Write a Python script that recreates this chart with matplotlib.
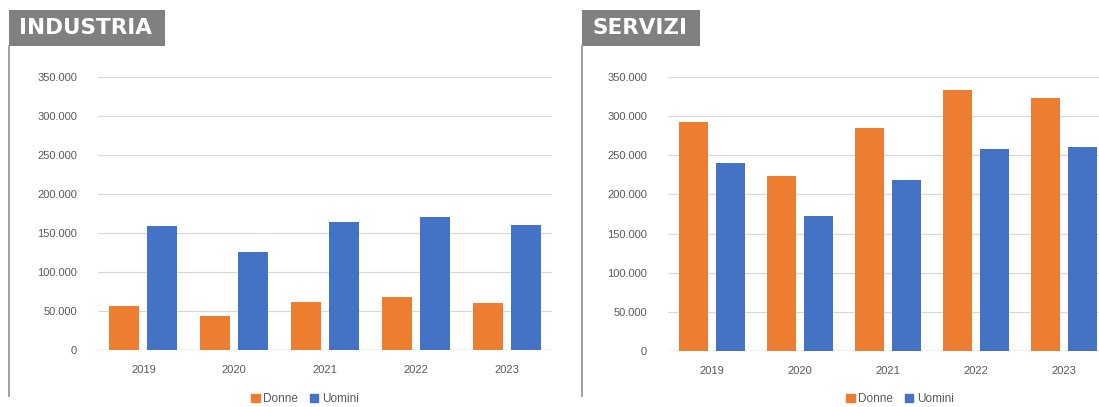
import numpy as np
import matplotlib
matplotlib.use("Agg")
import matplotlib.pyplot as plt
from matplotlib.patches import Rectangle, Patch
from matplotlib.lines import Line2D
from matplotlib.ticker import FuncFormatter

anni = ["2019", "2020", "2021", "2022", "2023"]

# occupati per settore e genere
industria_donne = [56000, 44000, 61000, 68000, 60000]
industria_uomini = [159000, 126000, 164000, 171000, 160000]
servizi_donne = [292000, 224000, 285000, 333000, 323000]
servizi_uomini = [240000, 173000, 218000, 258000, 261000]

ARANCIO = "#ED7D31"
BLU = "#4472C4"
GRIGIO = "#595959"

W, H = 1099, 407
fig = plt.figure(figsize=(W / 100, H / 100), dpi=100)
plt.rcParams["font.family"] = ["Liberation Sans", "DejaVu Sans"]


def px(x0, y0, x1, y1):
    # rettangolo in pixel (origine in alto a sinistra) -> coordinate figura
    return [x0 / W, 1 - y1 / H, (x1 - x0) / W, (y1 - y0) / H]


def migliaia(v, pos):
    return f"{int(v):,}".replace(",", ".")


def pannello(titolo, box, frame_x, area, donne, uomini, legenda_x):
    # cornice e intestazione
    fig.add_artist(Line2D([frame_x / W, frame_x / W], [1 - 46 / H, 1 - 396 / H],
                          color="#999999", lw=1.3, transform=fig.transFigure))
    fig.add_artist(Rectangle((box[0] / W, 1 - 46 / H), (box[1] - box[0]) / W, 36 / H,
                             facecolor="#808080", edgecolor="none",
                             transform=fig.transFigure))
    fig.text((box[0] + 10) / W, 1 - 28 / H, titolo, color="white", fontsize=15.5,
             fontweight="bold", family="DejaVu Sans", va="center", ha="left")

    ax = fig.add_axes(px(*area))
    x = np.arange(len(anni))
    w = 0.33
    ax.bar(x - 0.21, donne, w, color=ARANCIO, zorder=3)
    ax.bar(x + 0.21, uomini, w, color=BLU, zorder=3)
    ax.set_xlim(-0.5, 4.5)
    ax.set_ylim(0, 350000)
    ax.set_yticks(np.arange(0, 350001, 50000))
    ax.yaxis.set_major_formatter(FuncFormatter(migliaia))
    ax.set_xticks(x, anni)
    ax.grid(axis="y", color="#d9d9d9", lw=0.9, zorder=0)
    ax.axhline(0, color="#d0d0d0", lw=1, zorder=2)
    for s in ax.spines.values():
        s.set_visible(False)
    ax.tick_params(length=0, colors=GRIGIO, labelsize=8)
    ax.tick_params(axis="y", pad=15)
    ax.tick_params(axis="x", pad=11)
    ax.set_facecolor("none")

    maniglie = [Patch(color=ARANCIO, label="Donne"), Patch(color=BLU, label="Uomini")]
    fig.legend(handles=maniglie, loc="center", ncol=2, frameon=False,
               bbox_to_anchor=(legenda_x / W, 1 - 399 / H), fontsize=8.5,
               handlelength=0.7, handleheight=0.7, handletextpad=0.3,
               columnspacing=1.0, labelcolor=GRIGIO, borderpad=0.1)
    return ax


pannello("INDUSTRIA", (9, 165), 9, (98, 77, 552, 350),
         industria_donne, industria_uomini, 305)
pannello("SERVIZI", (582, 700), 582, (668, 77, 1108, 351),
         servizi_donne, servizi_uomini, 900)

fig.savefig("out.png", dpi=100)
